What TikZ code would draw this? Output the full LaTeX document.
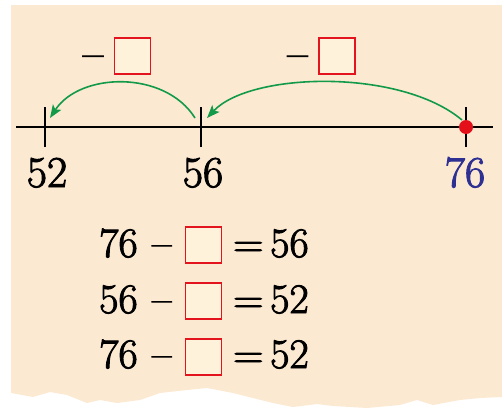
\documentclass[tikz,border=0pt]{standalone}
\usepackage{fontspec}
\newfontfamily\numfont[FakeBold=2.2,Ligatures=TeX]{Latin Modern Roman}
\usetikzlibrary{arrows.meta}
\definecolor{bgpeach}{HTML}{FCE9D2}
\definecolor{boxfill}{HTML}{FFF2DA}
\definecolor{boxred}{HTML}{E3141E}
\definecolor{arrgreen}{HTML}{129A48}
\definecolor{numblue}{HTML}{2E3192}
\definecolor{dotred}{HTML}{E3101A}
\tikzset{
  ansbox/.style={draw=boxred, fill=boxfill, line width=1.3pt, minimum width=36pt, minimum height=36pt, inner sep=0pt},
  bigtxt/.style={font=\numfont\fontsize{44}{44}\selectfont, inner sep=0pt},
  eqtxt/.style={font=\numfont\fontsize{42}{42}\selectfont, inner sep=0pt, anchor=base west},
  jump/.style={draw=arrgreen, line width=1.6pt, -{Stealth[length=13pt,width=10pt,inset=3pt]}},
  tickline/.style={line width=1.5pt},
}
\begin{document}
\begin{tikzpicture}[x=1pt,y=-1pt]
\useasboundingbox (0,0) rectangle (502,413);
% torn paper background
\fill[bgpeach] (11,5) -- (502,5) -- (502,397) -- (480,398) -- (460,400) -- (433,405) -- (417,400) -- (400,405) -- (367,408) -- (333,406) -- (317,404) -- (293,407) -- (273,403) -- (253,398) -- (233,393) -- (207,388) -- (187,390) -- (160,393) -- (140,400) -- (117,403) -- (100,400) -- (87,403) -- (67,395) -- (50,392) -- (33,397) -- (11,393) -- cycle;
% number line
\coordinate (L) at (16,127);
\coordinate (R) at (493,127);
\draw[tickline] (L) -- (R);
\coordinate (t52) at (45,127);
\coordinate (t56) at (201,127);
\coordinate (t76) at (466,127);
\draw[tickline] ([yshift=-20pt]t52) -- ([yshift=20pt]t52);
\draw[tickline] ([yshift=-20pt]t56) -- ([yshift=20pt]t56);
\draw[tickline] ([yshift=-20pt]t76) -- ([yshift=20pt]t76);
\fill[dotred] (t76) circle (7pt);
% labels
\node[bigtxt, anchor=base] (n52) at (47,187) {52};
\node[bigtxt, anchor=base] (n56) at (203,187) {56};
\node[bigtxt, anchor=base, text=numblue] (n76) at (465,187) {76};
% jump boxes
\node[ansbox] (b1) at (132.5,56) {};
\node[ansbox] (b2) at (337,56) {};
\node[bigtxt, anchor=base] (m1) at (93,68) {–};
\node[bigtxt, anchor=base] (m2) at (297.5,68) {–};
% arrows
\coordinate (s1) at (195,118);
\coordinate (e1) at (50,118);
\coordinate (s2) at (462,120);
\coordinate (e2) at (207,118);
\draw[jump] (s1) .. controls (165,70) and (80,72) .. (e1);
\draw[jump] (s2) .. controls (400,68) and (250,72) .. (e2);
% equations
\node[eqtxt] (a1) at (99,257) {76};
\node[eqtxt] (d1) at (152,257) {–};
\node[ansbox] (q1) at (203.5,245) {};
\node[eqtxt] (eq1) at (233,257) {=};
\node[eqtxt] (r1) at (270,257) {56};

\node[eqtxt] (a2) at (99,313) {56};
\node[eqtxt] (d2) at (152,313) {–};
\node[ansbox] (q2) at (203.5,301) {};
\node[eqtxt] (eq2) at (233,313) {=};
\node[eqtxt] (r2) at (270,313) {52};

\node[eqtxt] (a3) at (99,368) {76};
\node[eqtxt] (d3) at (152,368) {–};
\node[ansbox] (q3) at (203.5,357) {};
\node[eqtxt] (eq3) at (233,368) {=};
\node[eqtxt] (r3) at (270,368) {52};
\end{tikzpicture}
\end{document}
